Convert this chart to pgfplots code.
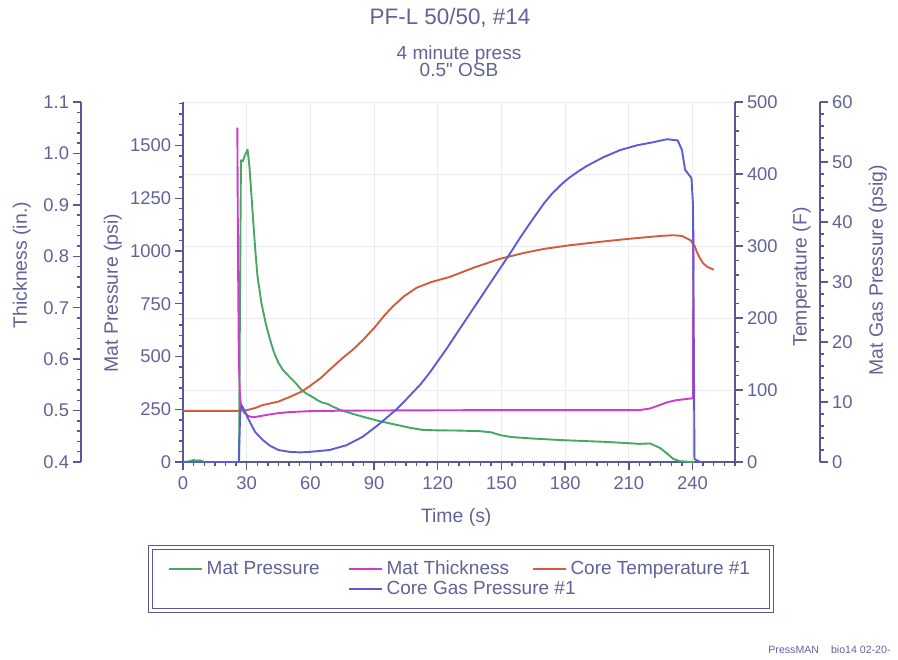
\documentclass[border=0pt]{standalone}
\usepackage{fontspec}
\setmainfont{Liberation Sans}
\newfontfamily\plainsans{Liberation Sans}[Ligatures=TeXOff]
\usepackage{pgfplots}
\pgfplotsset{compat=1.18}
\usepackage{pgfplotstable}

\definecolor{axisblue}{RGB}{88,88,150}
\definecolor{textblue}{RGB}{98,98,152}
\definecolor{gridgray}{RGB}{234,234,240}
\definecolor{matgreen}{RGB}{70,168,98}
\definecolor{matmag}{RGB}{205,60,205}
\definecolor{coreorange}{RGB}{210,92,62}
\definecolor{gasblue}{RGB}{92,92,215}

% Mat pressure (psi) vs time (s)
\pgfplotstableread{
t psi
0 0
3 3
5 10
6 6
8 8
10 0
26.4 0
26.8 700
27.3 1430
28.2 1425
29.2 1455
30.4 1480
31.3 1400
32.7 1196
34 1010
35.1 879
37 750
39 655
41 580
43 515
45 470
47 437
50 405
53 375
55.7 343
58 325
61 308
63.5 292
66 280
68 276
70 265
74 247
80 228
85 214
92 195
100.6 176
107 162
113 152
120 150
130 149
140 146
145 141
150 126
155 118
165 111
180 103
200 95
215 86
220 88
224.8 66
228 40
231 14
234 4
238 1
241 0
}\matpressure

% Mat thickness (in.)
\pgfplotstableread{
t thk
25.6 1.05
25.9 0.80
26.3 0.60
26.8 0.53
27.5 0.505
29 0.495
31 0.489
33 0.487
36 0.489
40 0.492
45 0.495
50 0.497
60 0.499
80 0.500
150 0.501
215 0.501
220 0.504
224 0.510
228 0.516
232 0.520
236 0.522
240.2 0.524
240.4 0.85
}\matthickness

% Core temperature (F)
\pgfplotstableread{
t temp
0 71
26 71
30 72
34 75
37.5 79
45 84
50 90
56 98
60 106
65 117
69 128
75 144
80 156
84.6 169
90 186
95 204
98.8 216
104 230
110 242
117 250
125.6 257
137 270
149 282
160 290
170 296
182 301
197 306
210 310
225 314
231 315
235 314
239 308
241 300
242 292
243.5 283
245 276
247 271
250 267
}\coretemp

% Core gas pressure (psig)
\pgfplotstableread{
t gas
0 0
26.3 0
26.6 4
27 8.8
27.8 9.4
29 8.5
31 7
34 5
37.5 3.7
41 2.7
45 2.0
50 1.7
55 1.6
60 1.7
69 2.0
77 2.8
84.6 4.2
92 6.2
100 8.6
104 10.0
108 11.5
112 13.0
116 14.8
120 16.8
124 18.8
127 20.4
133 23.6
140 27.3
146 30.5
153 34.2
159 37.5
164 40.1
170 43.1
174 44.8
178 46.2
182 47.4
186 48.4
190 49.3
198 50.8
206 52
214 52.8
221.5 53.3
228 53.8
233 53.6
235 52
236.5 48.7
239.5 47.3
240.2 43
240.6 20
240.9 0.5
243 0.1
244 0
}\coregas

\tikzset{lbl/.style={font=\fontsize{9.7}{11}\selectfont, text=textblue, anchor=center}}

\pgfplotsset{
  pressaxis/.style={
    width=276pt, height=180pt, scale only axis,
    at={(91.5pt,-231pt)}, anchor=south west,
    xmin=0, xmax=260,
    axis line style={axisblue, line width=0.75pt, -},
    tick style={axisblue, line width=0.7pt},
    major tick length=3.8pt, minor tick length=2.1pt,
    tick align=outside,
    /pgf/number format/assume math mode=true,
    every tick label/.append style={font=\fontsize{9.2}{11}\selectfont, text=textblue},
    yticklabel style={inner sep=2pt},
  },
  series/.style={line width=0.95pt, line join=round},
}

\begin{document}
\begin{tikzpicture}
\useasboundingbox (0,0) rectangle (449pt,-329.5pt);

% faint background grid
\begin{axis}[pressaxis, ymin=0, ymax=500,
  xtick={30,60,...,240}, ytick={100,200,...,500},
  xticklabels={}, yticklabels={},
  grid=major, major grid style={gridgray, line width=0.5pt},
  axis line style={draw=none}, tick style={draw=none}]
\end{axis}

% time axis, mat pressure and the legend
\begin{axis}[pressaxis,
  axis x line*=bottom, axis y line*=left,
  ymin=0, ymax=1706,
  xtick={0,30,...,240}, minor xtick={0,5,...,260},
  ytick={0,250,...,1500}, minor ytick={0,50,...,1700},
  yticklabel style={/pgf/number format/1000 sep={}},
  xlabel={Time (s)}, ylabel={Mat Pressure (psi)},
  every axis x label/.style={lbl, at={(axis description cs:0.495,-0.153)}},
  every axis y label/.style={lbl, at={(axis description cs:-0.127,0.469)}, rotate=90},
  legend columns=3,
  legend cell align=left,
  legend image code/.code={\draw[#1] (0pt,0pt) -- (16.5pt,0pt);},
  legend style={name=keybox, at={(axis description cs:0.5035,-0.325)}, anchor=center,
    draw=axisblue, line width=0.5pt,
    font=\fontsize{9.5}{11}\selectfont, text=textblue,
    inner xsep=7.5pt, inner ysep=3.5pt,
    nodes={inner ysep=1.9pt},
    row sep=-2pt,
    column sep=0pt},
]
\addplot[series, matgreen] table[x=t, y=psi] {\matpressure};
\addlegendentry{\makebox[68.5pt][l]{Mat Pressure}}
\addlegendimage{series, matmag}
\addlegendentry{\makebox[70.5pt][l]{Mat Thickness}}
\addlegendimage{series, coreorange}
\addlegendentry{Core Temperature \#1}
\addlegendimage{empty legend}
\addlegendentry{}
\addlegendimage{series, gasblue}
\addlegendentry{\rlap{Core Gas Pressure \#1}}
\end{axis}

% outer line of the double legend frame
\draw[axisblue, line width=0.7pt]
  ([shift={(-1.9pt,1.9pt)}]keybox.north west) rectangle ([shift={(1.9pt,-1.9pt)}]keybox.south east);

% mat thickness on its own scale
\begin{axis}[pressaxis, hide axis, ymin=0.4, ymax=1.1]
\addplot[series, matmag] table[x=t, y=thk] {\matthickness};
\end{axis}

% core temperature, right-hand axis
\begin{axis}[pressaxis,
  axis y line*=right, axis x line=none,
  ymin=0, ymax=500,
  ytick={0,100,...,500}, minor ytick={0,20,...,500},
  ylabel={Temperature (F)},
  every axis y label/.style={lbl, at={(axis description cs:1.1208,0.514)}, rotate=90},
]
\addplot[series, coreorange] table[x=t, y=temp] {\coretemp};
\end{axis}

% core gas pressure on its own scale
\begin{axis}[pressaxis, hide axis, ymin=0, ymax=60]
\addplot[series, gasblue] table[x=t, y=gas] {\coregas};
\end{axis}

% offset thickness scale (far left)
\begin{axis}[pressaxis, at={(40.5pt,-231pt)},
  axis y line*=left, axis x line=none,
  ymin=0.4, ymax=1.1,
  ytick={0.4,0.5,0.6,0.7,0.8,0.9,1.0,1.1},
  minor ytick={0.42,0.44,...,1.09},
  yticklabel style={/pgf/number format/.cd, fixed, fixed zerofill, precision=1},
  ylabel={Thickness (in.)},
  every axis y label/.style={lbl, at={(axis description cs:-0.107,0.547)}, rotate=90},
]
\end{axis}

% offset gas pressure scale (far right)
\begin{axis}[pressaxis, at={(410pt,-231pt)}, anchor=south east,
  axis y line*=right, axis x line=none,
  ymin=0, ymax=60,
  ytick={0,10,...,60}, minor ytick={0,2,...,60},
  ylabel={Mat Gas Pressure (psig)},
  every axis y label/.style={lbl, at={(axis description cs:1.105,0.533)}, rotate=90},
]
\end{axis}

% titles
\node[font=\fontsize{11.2}{13}\selectfont, text=textblue] at (225pt,-9pt) {PF-L 50/50, \#14};
\node[font=\fontsize{9.5}{11}\selectfont, text=textblue] at (229.5pt,-27.3pt) {4 minute press};
\node[font=\plainsans\fontsize{9.5}{11}\selectfont, text=textblue] at (229.5pt,-35pt) {0.5" OSB};

% footer
\node[font=\fontsize{5.3}{6}\selectfont, text=textblue, anchor=west, inner sep=0pt] at (384pt,-325pt) {PressMAN\hspace{6pt}bio14 02-20-};
\end{tikzpicture}
\end{document}
